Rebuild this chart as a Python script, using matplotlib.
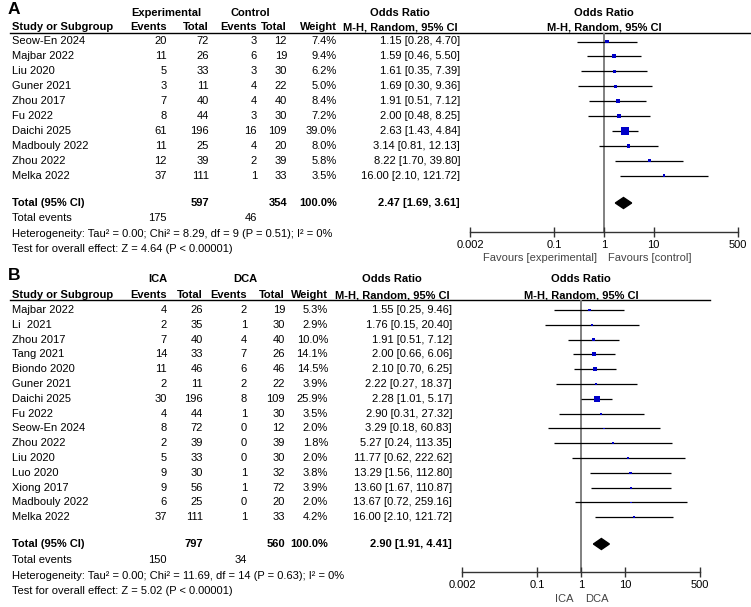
import matplotlib
matplotlib.use("Agg")
import matplotlib.pyplot as plt

plt.rcParams['font.family'] = ['Liberation Sans', 'DejaVu Sans']

# ---- Panel A data ----
a_study = ['Seow-En 2024', 'Majbar 2022', 'Liu 2020', 'Guner 2021', 'Zhou 2017',
           'Fu 2022', 'Daichi 2025', 'Madbouly 2022', 'Zhou 2022', 'Melka 2022']
a_exp_ev = [20, 11, 5, 3, 7, 8, 61, 11, 12, 37]
a_exp_tot = [72, 26, 33, 11, 40, 44, 196, 25, 39, 111]
a_ctl_ev = [3, 6, 3, 4, 4, 3, 16, 4, 2, 1]
a_ctl_tot = [12, 19, 30, 22, 40, 30, 109, 20, 39, 33]
a_weight = [7.4, 9.4, 6.2, 5.0, 8.4, 7.2, 39.0, 8.0, 5.8, 3.5]
a_or = [1.15, 1.59, 1.61, 1.69, 1.91, 2.00, 2.63, 3.14, 8.22, 16.00]
a_lo = [0.28, 0.46, 0.35, 0.30, 0.51, 0.48, 1.43, 0.81, 1.70, 2.10]
a_hi = [4.70, 5.50, 7.39, 9.36, 7.12, 8.25, 4.84, 12.13, 39.80, 121.72]
a_total = [2.47, 1.69, 3.61]
a_sums = [175, 597, 46, 354]
a_het = 'Heterogeneity: Tau² = 0.00; Chi² = 8.29, df = 9 (P = 0.51); I² = 0%'
a_test = 'Test for overall effect: Z = 4.64 (P < 0.00001)'

# ---- Panel B data ----
b_study = ['Majbar 2022', 'Li  2021', 'Zhou 2017', 'Tang 2021', 'Biondo 2020',
           'Guner 2021', 'Daichi 2025', 'Fu 2022', 'Seow-En 2024', 'Zhou 2022',
           'Liu 2020', 'Luo 2020', 'Xiong 2017', 'Madbouly 2022', 'Melka 2022']
b_exp_ev = [4, 2, 7, 14, 11, 2, 30, 4, 8, 2, 5, 9, 9, 6, 37]
b_exp_tot = [26, 35, 40, 33, 46, 11, 196, 44, 72, 39, 33, 30, 56, 25, 111]
b_ctl_ev = [2, 1, 4, 7, 6, 2, 8, 1, 0, 0, 0, 1, 1, 0, 1]
b_ctl_tot = [19, 30, 40, 26, 46, 22, 109, 30, 12, 39, 30, 32, 72, 20, 33]
b_weight = [5.3, 2.9, 10.0, 14.1, 14.5, 3.9, 25.9, 3.5, 2.0, 1.8, 2.0, 3.8, 3.9, 2.0, 4.2]
b_or = [1.55, 1.76, 1.91, 2.00, 2.10, 2.22, 2.28, 2.90, 3.29, 5.27, 11.77, 13.29, 13.60, 13.67, 16.00]
b_lo = [0.25, 0.15, 0.51, 0.66, 0.70, 0.27, 1.01, 0.31, 0.18, 0.24, 0.62, 1.56, 1.67, 0.72, 2.10]
b_hi = [9.46, 20.40, 7.12, 6.06, 6.25, 18.37, 5.17, 27.32, 60.83, 113.35, 222.62, 112.80, 110.87, 259.16, 121.72]
b_total = [2.90, 1.91, 4.41]
b_sums = [150, 797, 34, 560]
b_het = 'Heterogeneity: Tau² = 0.00; Chi² = 11.69, df = 14 (P = 0.63); I² = 0%'
b_test = 'Test for overall effect: Z = 5.02 (P < 0.00001)'

tick_vals = [0.002, 0.1, 1, 10, 500]
tick_labels = ['0.002', '0.1', '1', '10', '500']

W, H = 751, 607
FS = 8
BLUE = '#0000c8'

fig = plt.figure(figsize=(W / 100, H / 100), dpi=100)
bg = fig.add_axes([0, 0, 1, 1])
bg.set_xlim(0, W)
bg.set_ylim(H, 0)
bg.axis('off')


def draw_panel(letter, grp1, grp2, study, e_ev, e_tot, c_ev, c_tot, weight,
               orv, lo, hi, total, sums, het, test, fav_left, fav_right, lay):
    first, sp = lay['first'], lay['sp']
    cols = lay['cols']
    row_y = [first + i * sp for i in range(len(study))]

    # headers
    bg.text(8, lay['letter_y'], letter, fontsize=12.5, fontweight='bold', va='center')
    bg.text(lay['g1'], lay['h1'], grp1, fontsize=FS, fontweight='bold', ha='center', va='center')
    bg.text(lay['g2'], lay['h1'], grp2, fontsize=FS, fontweight='bold', ha='center', va='center')
    bg.text(lay['orc'], lay['h1'], 'Odds Ratio', fontsize=FS, fontweight='bold', ha='center', va='center')
    bg.text(lay['one'], lay['h1'], 'Odds Ratio', fontsize=FS, fontweight='bold', ha='center', va='center')
    h2 = lay['h2']
    bg.text(12, h2, 'Study or Subgroup', fontsize=FS, fontweight='bold', va='center')
    for x, lab in zip(cols[:5], ['Events', 'Total', 'Events', 'Total', 'Weight']):
        bg.text(x, h2, lab, fontsize=FS, fontweight='bold', ha='right', va='center')
    bg.text(lay['orc'], h2, 'M-H, Random, 95% CI', fontsize=FS, fontweight='bold', ha='center', va='center')
    bg.text(lay['one'], h2, 'M-H, Random, 95% CI', fontsize=FS, fontweight='bold', ha='center', va='center')
    bg.plot([10, lay['line_end']], [lay['line'], lay['line']], color='black', lw=1)

    # study rows
    for i, y in enumerate(row_y):
        bg.text(12, y, study[i], fontsize=FS, va='center')
        vals = [str(e_ev[i]), str(e_tot[i]), str(c_ev[i]), str(c_tot[i]),
                f'{weight[i]:.1f}%', f'{orv[i]:.2f} [{lo[i]:.2f}, {hi[i]:.2f}]']
        for x, v in zip(cols, vals):
            bg.text(x, y, v, fontsize=FS, ha='right', va='center')

    # totals
    ty = lay['total']
    bg.text(12, ty, 'Total (95% CI)', fontsize=FS, fontweight='bold', va='center')
    bg.text(cols[1], ty, str(sums[1]), fontsize=FS, fontweight='bold', ha='right', va='center')
    bg.text(cols[3], ty, str(sums[3]), fontsize=FS, fontweight='bold', ha='right', va='center')
    bg.text(cols[4], ty, '100.0%', fontsize=FS, fontweight='bold', ha='right', va='center')
    bg.text(cols[5], ty, f'{total[0]:.2f} [{total[1]:.2f}, {total[2]:.2f}]',
            fontsize=FS, fontweight='bold', ha='right', va='center')
    bg.text(12, lay['tev'], 'Total events', fontsize=FS, va='center')
    bg.text(cols[0], lay['tev'], str(sums[0]), fontsize=FS, ha='right', va='center')
    bg.text(cols[2], lay['tev'], str(sums[2]), fontsize=FS, ha='right', va='center')
    bg.text(12, lay['het'], het, fontsize=FS, va='center')
    bg.text(12, lay['test'], test, fontsize=FS, va='center')

    # forest axes
    x0, x1 = lay['ax_x']
    top, bot = lay['line'], lay['axis']
    ax = fig.add_axes([x0 / W, 1 - bot / H, (x1 - x0) / W, (bot - top) / H])
    ax.set_xscale('log')
    ax.set_xlim(tick_vals[0], tick_vals[-1])
    ax.set_ylim((bot - first) / sp, (top - first) / sp)
    ax.patch.set_alpha(0)
    for s in ['top', 'left', 'right']:
        ax.spines[s].set_visible(False)
    ax.spines['bottom'].set_color('#333333')
    ax.spines['bottom'].set_linewidth(1)
    ax.set_xticks(tick_vals, tick_labels)
    ax.minorticks_off()
    ax.tick_params(axis='x', direction='inout', length=7, width=1, color='#333333',
                   labelsize=FS, pad=2)
    ax.set_yticks([])
    ax.axvline(1, color='#808080', lw=1.4, zorder=0)

    ys = list(range(len(study)))
    ax.hlines(ys, lo, hi, color='black', lw=0.9, zorder=2)
    sizes = [(lay['msc'] * w ** 0.5 * 0.72) ** 2 for w in weight]
    ax.scatter(orv, ys, marker='s', s=sizes, color=BLUE, linewidths=0, zorder=3)

    yt = (ty - first) / sp
    hd = 5.5 / sp
    ax.fill([total[1], total[0], total[2], total[0]], [yt, yt - hd, yt, yt + hd],
            color='black', zorder=3)

    one = lay['one']
    bg.text(one - 7, lay['fav'], fav_left, fontsize=FS, ha='right', va='center', color='#444444')
    bg.text(one + 4, lay['fav'], fav_right, fontsize=FS, ha='left', va='center', color='#444444')


lay_a = dict(letter_y=10, h1=13, h2=27.5, line=32.5, line_end=751, first=41.5, sp=14.9,
             total=203, tev=218, het=234, test=249.5,
             cols=[167, 209, 257, 287, 337, 460], g1=166, g2=250, orc=400,
             one=604, ax_x=(470, 738), axis=232, fav=258, msc=1.25)
lay_b = dict(letter_y=275, h1=279, h2=295, line=299.5, line_end=710, first=310, sp=14.8,
             total=544, tev=560, het=576, test=590.5,
             cols=[167, 203, 247, 285, 328, 452], g1=158, g2=245, orc=392,
             one=581, ax_x=(462, 700), axis=572, fav=599, msc=1.1)

draw_panel('A', 'Experimental', 'Control', a_study, a_exp_ev, a_exp_tot, a_ctl_ev, a_ctl_tot,
           a_weight, a_or, a_lo, a_hi, a_total, a_sums, a_het, a_test,
           'Favours [experimental]', 'Favours [control]', lay_a)
draw_panel('B', 'ICA', 'DCA', b_study, b_exp_ev, b_exp_tot, b_ctl_ev, b_ctl_tot,
           b_weight, b_or, b_lo, b_hi, b_total, b_sums, b_het, b_test,
           'ICA', 'DCA', lay_b)

fig.savefig('out.png', dpi=100)
